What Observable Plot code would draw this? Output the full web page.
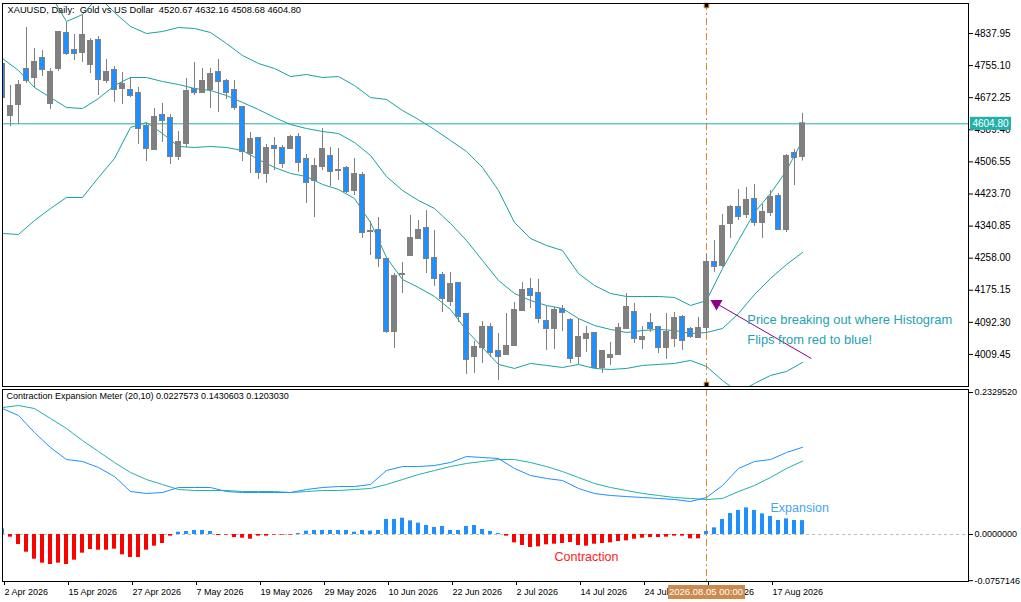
<!DOCTYPE html>
<html><head><meta charset="utf-8">
<script src="https://cdn.jsdelivr.net/npm/d3@7"></script>
<script src="https://cdn.jsdelivr.net/npm/@observablehq/plot@0.6"></script>
<style>
html,body{margin:0;padding:0;background:#fff;}
#wrap{position:relative;width:1021px;height:602px;overflow:hidden;background:#fff;}
#main,#ind{position:absolute;left:0;}
#main{top:0}
#ind{top:387px}
svg text{white-space:pre}
</style></head><body>
<div id="wrap"><div id="main"></div><div id="ind"></div></div>
<script>
// ---------- DATA ----------
const headerText = "XAUUSD, Daily:\u00a0 Gold vs US Dollar\u00a0 4520.67 4632.16 4508.68 4604.80";
const indHeaderText = "Contraction Expansion Meter (20,10) 0.0227573 0.1430603 0.1203030";

const open = [4757.9,4626.3,4654.7,4745.0,4724.3,4773.4,4657.2,4747.6,4837.9,4794.1,
4788.9,4757.9,4819.9,4716.6,4742.4,4696.0,4690.8,4683.0,4597.9,4538.5,
4626.3,4618.5,4520.5,4554.0,4693.4,4685.6,4693.4,4737.2,4714.0,4690.8,
4646.9,4528.2,4566.9,4476.6,4546.3,4541.1,4541.1,4569.5,4512.7,4458.5,
4494.6,4520.5,4484.3,4489.5,4432.7,4471.4,4326.8,4329.4,4254.6,4068.7,
4215.9,4264.9,4308.8,4334.6,4257.2,4213.3,4146.1,4192.6,4112.6,4004.2,
4027.4,4079.0,4017.1,4009.4,4032.6,4122.9,4177.1,4166.8,4094.5,4076.4,
4125.5,4097.1,4004.2,4050.7,4063.5,3975.8,4001.6,4009.4,4076.4,4117.7,
4048.1,4089.4,4079.0,4027.4,4050.7,4104.8,4073.9,4053.2,4079.0,4246.8,
4239.1,4347.5,4388.8,4370.7,4409.4,4350.1,4375.9,4417.2,4332.0,4528.2,
4520.67];
const high = [4768.2,4703.7,4716.6,4853.4,4799.2,4794.1,4747.6,4843.1,4866.3,4835.4,
4887.0,4825.0,4830.2,4770.8,4752.7,4737.2,4724.3,4698.5,4605.6,4644.3,
4657.2,4628.8,4585.0,4721.8,4763.1,4747.6,4747.6,4770.8,4719.2,4716.6,
4646.9,4582.4,4569.5,4551.4,4569.5,4548.8,4574.6,4579.8,4525.6,4515.3,
4592.7,4543.7,4541.1,4494.6,4515.3,4479.1,4352.6,4363.0,4257.2,4218.4,
4246.8,4368.1,4355.2,4381.0,4329.4,4221.0,4221.0,4195.2,4115.1,4042.9,
4094.5,4089.4,4063.5,4115.1,4143.5,4195.2,4205.5,4203.0,4133.2,4130.6,
4135.8,4102.2,4102.2,4081.6,4063.5,4017.1,4040.3,4089.4,4166.8,4140.9,
4081.6,4115.1,4081.6,4115.1,4117.7,4110.0,4079.0,4104.8,4267.5,4303.6,
4370.7,4394.0,4435.3,4440.4,4448.2,4396.5,4432.7,4424.9,4525.6,4538.5,
4632.16];
const low = [4665.0,4597.9,4603.0,4708.9,4696.0,4726.9,4641.7,4739.8,4781.2,4768.2,
4763.1,4734.7,4677.9,4708.9,4659.8,4654.7,4672.7,4551.4,4507.6,4535.9,
4556.6,4499.8,4510.1,4543.7,4677.9,4683.0,4644.3,4634.0,4667.6,4639.2,
4507.6,4476.6,4461.1,4450.8,4484.3,4489.5,4538.5,4479.1,4399.1,4363.0,
4484.3,4443.0,4458.5,4424.9,4419.8,4308.8,4264.9,4233.9,4063.5,4024.9,
4166.8,4262.3,4306.2,4218.4,4184.9,4117.7,4133.2,4091.9,3957.8,3960.4,
3986.2,4001.6,3942.3,4009.4,4032.6,4120.3,4128.0,4089.4,4019.7,4022.3,
4068.7,3986.2,3983.6,4014.5,3973.3,3960.4,3981.0,4006.8,4076.4,4037.8,
4022.3,4066.1,4012.0,3996.5,4027.4,4019.7,4050.7,4050.7,4063.5,4221.0,
4233.9,4308.8,4355.2,4360.4,4339.7,4308.8,4365.5,4329.4,4324.2,4445.6,
4508.68];
const close = [4672.7,4649.5,4703.7,4716.6,4763.1,4745.0,4737.2,4840.5,4786.3,4786.3,
4832.8,4817.3,4719.2,4737.2,4693.4,4706.3,4677.9,4592.7,4541.1,4621.1,
4613.3,4520.5,4556.6,4688.2,4685.6,4714.0,4732.1,4714.0,4685.6,4646.9,
4533.4,4564.3,4479.1,4541.1,4541.1,4502.4,4569.5,4505.0,4453.3,4494.6,
4538.5,4481.7,4484.3,4430.1,4474.0,4324.2,4326.8,4257.2,4068.7,4210.7,
4215.9,4308.8,4329.4,4257.2,4205.5,4153.9,4190.0,4107.4,3996.5,4027.4,
4079.0,4014.5,4004.2,4030.0,4122.9,4174.5,4161.6,4102.2,4076.4,4122.9,
4117.7,3999.1,4053.2,4061.0,3975.8,4017.1,4006.8,4076.4,4130.6,4050.7,
4053.2,4076.4,4027.4,4066.1,4102.2,4045.5,4055.8,4076.4,4246.8,4236.5,
4339.7,4388.8,4365.5,4406.9,4350.1,4375.9,4414.6,4332.0,4520.5,4517.9,
4604.80];

// Bollinger bands, read every 2 bars (bar 0,2,...,100)
const bbUpper = [5000.6,4987.7,4969.6,4938.6,4868.9,4887.0,4933.5,4892.2,4856.0,4837.9,
4843.1,4853.4,4850.9,4840.5,4812.1,4781.2,4760.5,4747.6,4726.9,4732.1,
4724.3,4726.9,4703.7,4672.7,4667.6,4639.2,4615.9,4590.1,4561.7,4533.4,
4492.1,4432.7,4350.1,4308.8,4290.7,4277.8,4218.4,4187.5,4166.8,4159.1,
4159.1,4159.1,4156.5,4135.8,4148.7,4231.3,4303.6,4375.9,4424.9,4484.3,
4561.7];
const bbMiddle = [4773.4,4742.4,4698.5,4672.7,4646.9,4644.3,4670.1,4703.7,4724.3,4724.3,
4714.0,4706.3,4696.0,4690.8,4677.9,4659.8,4641.7,4621.1,4603.0,4592.7,
4585.0,4579.8,4556.6,4523.0,4468.8,4432.7,4406.9,4386.2,4347.5,4303.6,
4252.0,4200.4,4166.8,4148.7,4135.8,4128.0,4102.2,4084.2,4073.9,4066.1,
4071.3,4073.9,4071.3,4063.5,4066.1,4076.4,4115.1,4164.2,4205.5,4241.7,
4272.6];
const bbLower = [4321.7,4319.1,4355.2,4386.2,4414.6,4414.6,4466.2,4515.3,4595.3,4608.2,
4579.8,4546.3,4543.7,4546.3,4543.7,4535.9,4512.7,4492.1,4476.6,4468.8,
4448.2,4435.3,4412.0,4350.1,4259.7,4203.0,4182.3,4159.1,4125.5,4071.3,
4027.4,3983.6,3973.3,3986.2,3981.0,3975.8,3983.6,3973.3,3970.6,3973.3,
3981.0,3983.6,3986.2,3993.9,3978.4,3942.3,3911.3,3934.5,3955.2,3965.5,
3988.7];

// Contraction Expansion Meter lines, read every 2 bars
const cemFast = [0.2067,0.1952,0.1673,0.1427,0.1230,0.1198,0.1099,0.0951,0.0705,0.0673,
0.0689,0.0771,0.0771,0.0771,0.0705,0.0689,0.0689,0.0689,0.0689,0.0738,
0.0771,0.0787,0.0787,0.0820,0.1050,0.1115,0.1115,0.1132,0.1181,0.1280,
0.1263,0.1247,0.1083,0.0968,0.0919,0.0886,0.0755,0.0673,0.0640,0.0623,
0.0607,0.0591,0.0574,0.0541,0.0607,0.0804,0.1083,0.1198,0.1230,0.1345,
0.1431];
const cemSlow = [0.2083,0.2116,0.2067,0.1903,0.1739,0.1542,0.1362,0.1181,0.1017,0.0902,
0.0820,0.0738,0.0722,0.0722,0.0722,0.0705,0.0705,0.0705,0.0689,0.0705,
0.0722,0.0722,0.0738,0.0755,0.0820,0.0902,0.0984,0.1050,0.1115,0.1165,
0.1198,0.1230,0.1230,0.1181,0.1115,0.1033,0.0935,0.0837,0.0771,0.0722,
0.0673,0.0640,0.0607,0.0591,0.0574,0.0591,0.0705,0.0804,0.0935,0.1083,
0.1203];
// Histogram, every bar
const cemHist = [0.0093,-0.0044,-0.0164,-0.0290,-0.0405,-0.0470,-0.0492,-0.0470,-0.0492,-0.0421,
-0.0306,-0.0246,-0.0257,-0.0257,-0.0240,-0.0333,-0.0377,-0.0377,-0.0257,-0.0191,
-0.0148,-0.0027,0.0038,0.0049,0.0066,0.0066,0.0049,-0.0016,-0.0010,-0.0050,
-0.0060,-0.0077,-0.0027,-0.0027,-0.0010,-0.0010,-0.0010,0.0016,0.0055,0.0066,
0.0066,0.0066,0.0066,0.0066,0.0038,0.0066,0.0055,0.0066,0.0246,0.0246,
0.0268,0.0224,0.0186,0.0148,0.0115,0.0131,0.0066,0.0066,0.0131,0.0148,
0.0082,0.0049,0.0016,-0.0027,-0.0137,-0.0180,-0.0213,-0.0202,-0.0169,-0.0159,
-0.0148,-0.0131,-0.0180,-0.0191,-0.0159,-0.0148,-0.0137,-0.0115,-0.0104,-0.0077,
-0.0060,-0.0049,-0.0049,-0.0044,-0.0027,-0.0027,-0.0071,-0.0071,0.0049,0.0109,
0.0246,0.0344,0.0394,0.0437,0.0394,0.0339,0.0295,0.0230,0.0257,0.0230,
0.0228];

const priceTicks = [4837.95,4755.10,4672.25,4589.40,4506.55,4423.70,4340.85,4258.00,4175.15,4092.30,4009.45];
const cemTicks = [0.2329520,0,-0.0757146];
const dateTickIdx = [0,8,16,24,32,40,48,56,64,72,80,88,96];
const dateTickLabels = ["2 Apr 2026","15 Apr 2026","27 Apr 2026","7 May 2026","19 May 2026","29 May 2026",
  "10 Jun 2026","22 Jun 2026","2 Jul 2026","14 Jul 2026","24 Jul 2026","5 Aug 2026","17 Aug 2026"];
const breakoutIdx = 88;
const breakoutLabel = "2026.08.05 00:00";
const lastClose = 4604.80;

const noteLines = ["Price breaking out where Histogram","Flips from red to blue!"];
const noteIdx = [93.1, 93.1];
const notePrice = [4099.7, 4048.1];
const arrowFrom = {i: 101.1, p: 3999.0};
const arrowTo = {i: 89.25, p: 4141.0};
const contractionLabel = {text: "Contraction", i: 69, v: -0.0361};
const expansionLabel = {text: "Expansion", i: 96, v: 0.0427};

// ---------- STYLE ----------
const FONT = "'Liberation Sans', Arial, sans-serif";
const GRAY = "#808080", BLUE = "#1e90ff", RED = "#ff0000";
const BB = "#17a2a2", TEAL = "#20b2aa", ORANGE = "#e08a2c", PURPLE = "#8b008b";

const candles = open.map((o, i) => ({i, open: o, high: high[i], low: low[i], close: close[i]}));
const bandIdx = bbUpper.map((_, k) => k * 2);
const bands = bandIdx.map((i, k) => ({i, upper: bbUpper[k], middle: bbMiddle[k], lower: bbLower[k], fast: cemFast[k], slow: cemSlow[k]}));
const hist = cemHist.map((v, i) => ({i, v}));
const notes = noteLines.map((t, k) => ({t, i: noteIdx[k], p: notePrice[k]}));

const XDOM = [0, 120.75];

const main = Plot.plot({
  width: 1021, height: 387,
  marginLeft: 2, marginRight: 53, marginTop: 3, marginBottom: 1,
  style: {fontFamily: FONT, fontSize: "10px", color: "#000", background: "#fff", overflow: "visible"},
  x: {domain: XDOM, axis: null},
  y: {domain: [3926.7, 4915.4]},
  marks: [
    Plot.ruleX([breakoutIdx], {x: d => d, stroke: ORANGE, strokeDasharray: "7,3,2,3"}),
    Plot.ruleY([lastClose], {y: d => d, stroke: TEAL}),
    Plot.line(bands, {x: "i", y: "upper", stroke: BB, strokeWidth: 1, clip: true}),
    Plot.line(bands, {x: "i", y: "middle", stroke: BB, strokeWidth: 1, clip: true}),
    Plot.line(bands, {x: "i", y: "lower", stroke: BB, strokeWidth: 1, clip: true}),
    Plot.ruleX(candles, {x: "i", y1: "low", y2: "high", stroke: GRAY, clip: true}),
    Plot.rect(candles, {x1: d => d.i - 0.5, x2: d => d.i + 0.5, y1: "open", y2: "close",
      insetLeft: 1.5, insetRight: 1.5, insetTop: -0.5, insetBottom: -0.5,
      fill: d => d.close >= d.open ? GRAY : BLUE, stroke: GRAY, strokeWidth: 1, clip: true}),
    Plot.link([0], {x1: () => arrowFrom.i, y1: () => arrowFrom.p, x2: () => arrowTo.i, y2: () => arrowTo.p, stroke: PURPLE, strokeWidth: 1}),
    Plot.dot([0], {x: () => arrowTo.i, y: () => arrowTo.p, symbol: "triangle", rotate: -60, r: 4.5, fill: PURPLE, stroke: "none"}),
    Plot.text(notes, {x: "i", y: "p", text: "t", textAnchor: "start", fill: "#24a2b4", fontSize: 12.9}),
    Plot.text([headerText], {frameAnchor: "top-left", dx: 5, dy: 3, lineAnchor: "top", textAnchor: "start", fontSize: 9.3, fill: "#000"}),
    Plot.axisY(priceTicks, {anchor: "right", tickSize: 4, tickPadding: 2, tickFormat: d => d.toFixed(2), label: null, fontSize: 10}),
    Plot.dot([breakoutIdx], {x: d => d, frameAnchor: "top", dy: 2, symbol: "square", r: 2.6, fill: "#000", stroke: ORANGE, strokeWidth: 1}),
    Plot.dot([breakoutIdx], {x: d => d, frameAnchor: "bottom", dy: -2, symbol: "square", r: 2.6, fill: "#000", stroke: ORANGE, strokeWidth: 1}),
    Plot.frame({stroke: "#000"})
  ]
});

const ind = Plot.plot({
  width: 1021, height: 215,
  marginLeft: 2, marginRight: 53, marginTop: 2, marginBottom: 21,
  style: {fontFamily: FONT, fontSize: "10px", color: "#000", background: "#fff", overflow: "visible"},
  x: {domain: XDOM},
  y: {domain: [-0.0771, 0.2379]},
  marks: [
    Plot.ruleY([0], {y: d => d, stroke: "#bdbdbd", strokeDasharray: "3,3"}),
    Plot.rect(hist, {x1: d => d.i - 0.5, x2: d => d.i + 0.5, y1: () => 0, y2: "v",
      insetLeft: 2, insetRight: 2, fill: d => d.v >= 0 ? BLUE : RED, clip: true}),
    Plot.line(bands, {x: "i", y: "slow", stroke: TEAL, strokeWidth: 1}),
    Plot.line(bands, {x: "i", y: "fast", stroke: BLUE, strokeWidth: 1}),
    Plot.ruleX([breakoutIdx], {x: d => d, stroke: ORANGE, strokeDasharray: "7,3,2,3"}),
    Plot.text([contractionLabel], {x: "i", y: "v", text: "text", textAnchor: "start", fill: "#ff1a1a", fontSize: 12.5}),
    Plot.text([expansionLabel], {x: "i", y: "v", text: "text", textAnchor: "start", fill: "#4aa3f0", fontSize: 12.5}),
    Plot.text([indHeaderText], {frameAnchor: "top-left", dx: 4, dy: 3, lineAnchor: "top", textAnchor: "start", fontSize: 9, fill: "#000"}),
    Plot.axisY(cemTicks, {anchor: "right", tickSize: 4, tickPadding: 2, tickFormat: d => d.toFixed(7), label: null, fontSize: 9}),
    Plot.axisX(dateTickIdx, {anchor: "bottom", tickSize: 4, tickPadding: 3, textAnchor: "start", dx: 2,
      tickFormat: d => dateTickLabels[dateTickIdx.indexOf(d)], label: null, fontSize: 9}),
    Plot.frame({stroke: "#000"})
  ]
});

document.getElementById("main").appendChild(main);
document.getElementById("ind").appendChild(ind);

// current price tag on the price axis
{
  const y = main.scale("y").apply(lastClose);
  const g = d3.select(main).append("g");
  g.append("rect").attr("x", 970).attr("y", y - 6.5).attr("width", 41).attr("height", 13).attr("fill", TEAL);
  g.append("text").attr("x", 990.5).attr("y", y).attr("dy", "0.35em").attr("text-anchor", "middle")
    .attr("fill", "#fff").attr("font-size", 10).attr("font-family", FONT).text(lastClose.toFixed(2));
}
// crosshair date tag on the time axis
{
  const x = ind.scale("x").apply(breakoutIdx);
  const g = d3.select(ind).append("g");
  g.append("rect").attr("x", x - 38).attr("y", 198).attr("width", 77).attr("height", 14).attr("fill", "#cd8a4c");
  g.append("text").attr("x", x).attr("y", 205).attr("dy", "0.35em").attr("text-anchor", "middle")
    .attr("fill", "#fff").attr("font-size", 9.5).attr("font-family", FONT).text(breakoutLabel);
}
</script>
</body></html>
